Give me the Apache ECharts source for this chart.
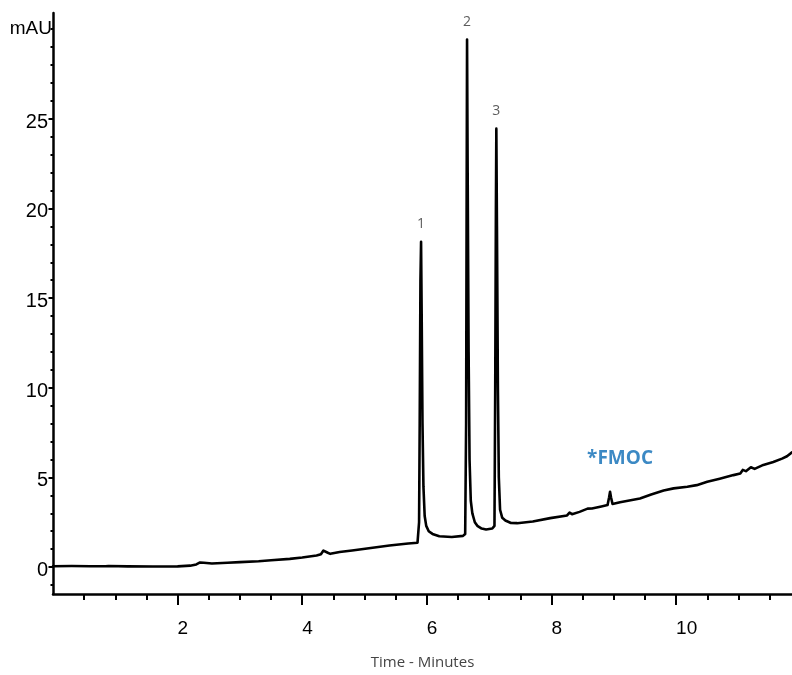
<!DOCTYPE html>
<html>
<head>
<meta charset="utf-8">
<script src="https://cdn.jsdelivr.net/npm/echarts@6/dist/echarts.min.js"></script>
<style>
html,body{margin:0;padding:0;background:#fff;}
#chart{width:792px;height:675px;}
</style>
</head>
<body>
<div id="chart"></div>
<script>
// Retention time (minutes)
const timeMin = [
  0.00,0.30,0.60,0.84,0.86,0.89,1.20,1.60,2.00,2.20,2.30,2.36,2.42,2.55,2.80,3.00,3.30,3.50,3.80,4.00,
  4.23,4.30,4.34,4.37,4.41,4.45,4.60,4.80,5.10,5.40,5.70,5.85,
  5.875,5.885,5.897,5.907,5.917,5.93,5.945,5.965,5.99,6.03,6.09,6.20,6.40,6.58,
  6.615,6.63,6.638,6.645,6.655,6.67,6.685,6.705,6.73,6.77,6.81,6.88,6.95,7.05,
  7.085,7.097,7.108,7.115,7.125,7.14,7.155,7.175,7.21,7.26,7.35,7.45,7.70,7.98,
  8.25,8.29,8.33,8.45,8.58,8.61,8.65,8.80,8.90,8.925,8.94,8.955,8.98,9.10,9.42,
  9.60,9.80,9.96,10.18,10.33,10.50,10.70,10.92,11.03,11.07,11.12,11.20,11.26,11.40,
  11.56,11.70,11.78,11.86
];
// Absorbance (mAU)
const absorbance = [
  0.05,0.06,0.05,0.05,-0.03,0.06,0.04,0.03,0.04,0.08,0.15,0.26,0.24,0.20,0.24,0.28,0.33,0.38,0.46,0.54,
  0.65,0.72,0.92,0.99,0.80,0.74,0.84,0.93,1.07,1.20,1.32,1.36,
  2.5,8,16,18.14,14,8,4.5,2.85,2.3,2.0,1.85,1.72,1.68,1.74,
  1.85,8,20,29.42,22,12,6,3.7,3.0,2.5,2.3,2.15,2.1,2.15,
  2.3,10,20,24.45,19,10,5,3.2,2.75,2.6,2.46,2.45,2.54,2.73,
  2.88,3.04,2.95,3.08,3.26,3.33,3.27,3.38,3.46,3.9,4.2,3.9,3.52,3.62,3.83,
  4.05,4.27,4.39,4.48,4.57,4.76,4.93,5.13,5.22,5.42,5.35,5.57,5.48,5.70,
  5.86,6.05,6.18,6.40
];
// Peak annotations
const peakNames = ['1','2','3'];
const peakTimes = [5.907, 6.645, 7.115];
const peakHeights = [18.14, 29.42, 24.45];
// FMOC annotation anchor (data coords)
const fmocText = '*FMOC';
const fmocAnchor = [9.10, 6.05];
// Axis ticks / labels
const xLabelValues = [2,4,6,8,10];
const xMinorTicks = [0.5,1,1.5,2.5,3,3.5,4.5,5,5.5,6.5,7,7.5,8.5,9,9.5,10.5,11,11.5];
const yLabelValues = [0,5,10,15,20,25];
const yMinorTicks = [-1,1,2,3,4,6,7,8,9,11,12,13,14,16,17,18,19,21,22,23,24,26,27,28,29,30];
const yUnitValue = [30];
const yUnitLabel = 'mAU';
const xName = 'Time - Minutes';

const trace = timeMin.map((t,i)=>[t, absorbance[i]]);
const peaks = peakTimes.map((t,i)=>({value:[t, peakHeights[i]], name: peakNames[i]}));

const X_MIN = 0, X_MAX = 11.86, Y_MIN = -1.5, Y_MAX = 30.9;
const axisColor = '#000';
const armFont = 'Liberation Sans, Arial, sans-serif';
const chart = echarts.init(document.getElementById('chart'), null, {renderer:'canvas'});
chart.setOption({
  animation:false,
  backgroundColor:'#fff',
  grid:{left:53, right:0, top:13, bottom:76.5, containLabel:false},
  xAxis:[{
    type:'value', min:X_MIN, max:X_MAX, position:'bottom',
    axisLine:{show:true, onZero:false, lineStyle:{color:axisColor, width:2.5}},
    axisTick:{show:true, inside:false, length:11, lineStyle:{color:axisColor, width:2}, customValues:xLabelValues},
    axisLabel:{show:true, customValues:xLabelValues, margin:25, align:'left', color:'#000',
      fontFamily:armFont, fontSize:19},
    splitLine:{show:false},
    name:xName, nameLocation:'middle', nameGap:61,
    nameTextStyle:{color:'#444', fontFamily:'Open Sans, sans-serif', fontSize:15}
  },{
    type:'value', min:X_MIN, max:X_MAX, position:'bottom', offset:0,
    axisLine:{show:false, onZero:false},
    axisTick:{show:true, length:6, lineStyle:{color:axisColor, width:2}, customValues:xMinorTicks},
    axisLabel:{show:false},
    splitLine:{show:false}
  }],
  yAxis:[{
    type:'value', min:Y_MIN, max:Y_MAX, position:'left',
    axisLine:{show:true, onZero:false, lineStyle:{color:axisColor, width:2.5}},
    axisTick:{show:true, length:4.5, lineStyle:{color:axisColor, width:2}, customValues:yLabelValues},
    axisLabel:{show:true, customValues:yLabelValues, margin:5, color:'#000',
      formatter:v=>'{s|'+v+'}',
      rich:{s:{padding:[7,0,0,0], fontFamily:armFont, fontSize:20, color:'#000'}},
      fontFamily:armFont, fontSize:20},
    splitLine:{show:false}
  },{
    type:'value', min:Y_MIN, max:Y_MAX, position:'left', offset:0,
    axisLine:{show:false, onZero:false},
    axisTick:{show:true, length:2.5, lineStyle:{color:axisColor, width:2}, customValues:yMinorTicks},
    axisLabel:{show:true, customValues:yUnitValue, margin:1, color:'#000',
      formatter:()=>yUnitLabel, fontFamily:armFont, fontSize:19},
    splitLine:{show:false}
  }],
  series:[{
    type:'line', data:trace, xAxisIndex:0, yAxisIndex:0,
    showSymbol:false, symbol:'none', smooth:false,
    lineStyle:{color:'#000', width:2.6, join:'round', cap:'round'},
    z:3
  },{
    type:'scatter', data:peaks, xAxisIndex:0, yAxisIndex:0,
    symbolSize:0, silent:true,
    label:{show:true, position:'top', distance:11, formatter:p=>p.name,
      color:'#333', fontFamily:'Open Sans, sans-serif', fontSize:14},
    z:4
  },{
    type:'scatter', data:[{value:fmocAnchor, name:fmocText}], xAxisIndex:0, yAxisIndex:0,
    symbolSize:0, silent:true,
    label:{show:true, position:'inside', formatter:p=>p.name,
      color:'#0b6cb5', fontFamily:'Open Sans, sans-serif', fontWeight:'bold', fontSize:19},
    z:4
  }]
});
</script>
</body>
</html>
